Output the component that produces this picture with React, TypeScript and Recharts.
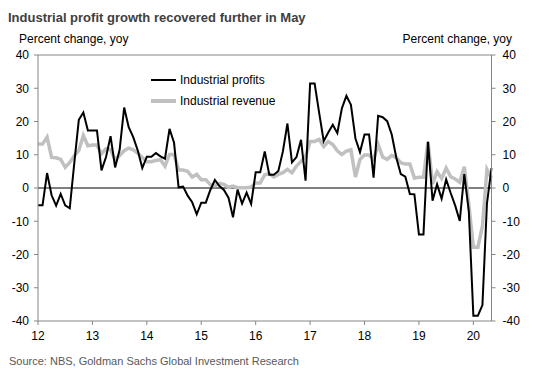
import { LineChart, Line, XAxis, YAxis, ReferenceLine, Legend } from "recharts";

// monthly, Jan 2012 .. May 2020 (index 0..100)
const yearLabels = ["12", "13", "14", "15", "16", "17", "18", "19", "20"];
const yearTicks = [0, 12, 24, 36, 48, 60, 72, 84, 96];
const yTicks = [-40, -30, -20, -10, 0, 10, 20, 30, 40];

const profits = [
  -5.2, -5.2, 4.5, -2.2, -5.3, -1.8, -5.2, -6.1, 7.5, 20.5, 22.7, 17.3,
  17.3, 17.3, 5.3, 9.3, 15.6, 6.2, 11.5, 24.2, 18.3, 15.3, 11.3, 6.0,
  9.4, 9.4, 10.5, 9.5, 8.8, 17.8, 13.6, 0.2, 0.4, -2.3, -4.3, -7.9,
  -4.4, -4.4, -0.6, 2.4, 0.6, -0.6, -2.9, -8.8, -0.5, -4.7, -1.4, -4.8,
  4.7, 4.7, 11.0, 4.0, 4.0, 5.1, 11.0, 19.4, 7.7, 9.3, 14.5, 2.2,
  31.4, 31.4, 22.6, 14.1, 16.7, 19.0, 16.5, 23.9, 27.7, 25.0, 14.9, 10.8,
  16.1, 16.1, 3.1, 21.7, 21.3, 20.1, 16.1, 9.2, 4.2, 3.4, -1.8, -1.9,
  -14.0, -14.0, 13.9, -3.8, 1.1, -3.2, 2.6, -1.5, -5.3, -9.9, 4.2, -7.0,
  -38.4, -38.4, -35.2, -4.6, 6.0,
];

const revenue = [
  13.2, 13.2, 15.3, 9.2, 9.1, 8.6, 6.2, 7.7, 9.7, 11.3, 15.8, 12.7,
  12.9, 12.9, 10.3, 11.8, 11.5, 8.5, 9.8, 11.2, 12.0, 11.5, 10.5, 9.2,
  7.9, 7.9, 8.3, 8.5, 6.6, 10.1, 10.1, 5.4, 5.4, 5.0, 3.3, 4.1,
  2.5, 2.5, 1.0, 0.7, 1.4, 1.1, 0.2, 0.6, 0.1, 0.1, 0.1, 0.3,
  1.5, 1.5, 4.0, 4.3, 3.3, 4.1, 4.6, 5.6, 4.6, 6.6, 8.0, 9.5,
  14.0, 14.0, 14.6, 12.5, 14.0, 13.1, 11.2, 10.1, 11.1, 11.5, 3.3, 8.6,
  9.9, 9.9, 8.6, 13.1, 9.3, 8.6, 9.8, 9.1, 7.6, 7.2, 7.2, 3.0,
  3.2, 3.2, 13.9, 1.2, 4.9, 2.9, 6.0, 3.4, 2.7, 1.7, 6.4, -5.0,
  -17.8, -17.8, -11.5, 5.6, 3.0,
];

const data = profits.map((p, i) => ({ i, profits: p, revenue: revenue[i] }));

const AXIS = "#868686";
const GREY_LINE = "#c0c0c0";

function ChartLegend() {
  const items = [
    { label: "Industrial profits", color: "#000000", w: 2 },
    { label: "Industrial revenue", color: GREY_LINE, w: 4 },
  ];
  return (
    <div style={{ fontSize: 12, color: "#000" }}>
      {items.map((it) => (
        <div key={it.label} style={{ display: "flex", alignItems: "center", height: 21.4 }}>
          <span style={{ display: "inline-block", width: 25, height: it.w, background: it.color, marginRight: 4 }} />
          <span>{it.label}</span>
        </div>
      ))}
    </div>
  );
}

export default function App() {
  return (
    <div
      style={{
        position: "absolute",
        left: 0,
        top: 0,
        width: 533,
        height: 372,
        background: "#fff",
        fontFamily: "'Liberation Sans', Arial, sans-serif",
      }}
    >
      <div style={{ position: "absolute", left: 8, top: 10, fontSize: 13, lineHeight: "15px", fontWeight: "bold", color: "#404040" }}>
        Industrial profit growth recovered further in May
      </div>
      <div style={{ position: "absolute", left: 19, top: 32, fontSize: 12, lineHeight: "14px", color: "#000" }}>
        Percent change, yoy
      </div>
      <div style={{ position: "absolute", right: 21, top: 32, fontSize: 12, lineHeight: "14px", color: "#000" }}>
        Percent change, yoy
      </div>
      <LineChart width={533} height={372} data={data} margin={{ top: 55, right: 0, bottom: 0, left: 0 }}>
        <XAxis
          dataKey="i"
          type="number"
          domain={[0, 100]}
          ticks={yearTicks}
          interval={0}
          tickFormatter={(v: number) => yearLabels[yearTicks.indexOf(v)] ?? ""}
          height={51}
          stroke={AXIS}
          tickSize={4}
          tickMargin={6}
          tick={{ fill: "#000", fontSize: 12 }}
        />
        <YAxis
          yAxisId="left"
          domain={[-40, 40]}
          ticks={yTicks}
          interval={0}
          width={38}
          stroke={AXIS}
          tickSize={4}
          tickMargin={5}
          tick={{ fill: "#000", fontSize: 12 }}
        />
        <YAxis
          yAxisId="right"
          orientation="right"
          domain={[-40, 40]}
          ticks={yTicks}
          interval={0}
          width={41.5}
          stroke={AXIS}
          tickSize={4}
          tickMargin={7}
          tick={{ fill: "#000", fontSize: 12 }}
        />
        <ReferenceLine yAxisId="left" y={40} stroke={AXIS} />
        <ReferenceLine yAxisId="left" y={0} stroke="#000" strokeWidth={1} />
        <Legend
          layout="vertical"
          align="center"
          verticalAlign="middle"
          content={() => <ChartLegend />}
          wrapperStyle={{ left: 151, top: 69, width: "auto", height: "auto" }}
        />
        <Line
          yAxisId="right"
          type="linear"
          dataKey="revenue"
          name="Industrial revenue"
          stroke={GREY_LINE}
          strokeWidth={3.5}
          dot={false}
          isAnimationActive={false}
        />
        <Line
          yAxisId="left"
          type="linear"
          dataKey="profits"
          name="Industrial profits"
          stroke="#000"
          strokeWidth={2}
          dot={false}
          isAnimationActive={false}
        />
      </LineChart>
      <div style={{ position: "absolute", left: 9, top: 355, fontSize: 11, lineHeight: "13px", color: "#595959" }}>
        Source: NBS, Goldman Sachs Global Investment Research
      </div>
    </div>
  );
}
